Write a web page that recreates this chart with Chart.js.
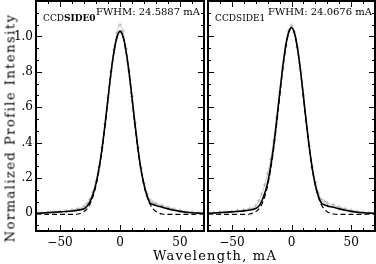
<!DOCTYPE html>
<html>
<head>
<meta charset="utf-8">
<script src="https://cdn.jsdelivr.net/npm/chart.js@4/dist/chart.umd.min.js"></script>
<style>
  body { margin: 0; background: #fff; }
  #wrap { position: relative; width: 376px; height: 264px; overflow: hidden; font-family: "DejaVu Serif", serif; color: #000; }
  .panel { position: absolute; top: 0; height: 264px; }
  .title { position: absolute; white-space: nowrap; font-size: 13px; letter-spacing: 1.2px; transform: translate(-50%, -50%); }
  #ytitle { transform: translate(-50%, -50%) rotate(-90deg); letter-spacing: 1.5px; }
</style>
</head>
<body>
<div id="wrap">
  <div class="panel" style="left:0;width:206px"><canvas id="side0"></canvas></div>
  <div class="panel" style="left:206px;width:170px"><canvas id="side1"></canvas></div>
  <div class="title" id="xtitle" style="left:215px;top:255px">Wavelength, mA</div>
  <div class="title" id="ytitle" style="left:10px;top:128px">Normalized Profile Intensity</div>
</div>
<script>
// wavelength offsets, mA
const wavelength = [-70, -65, -60, -55, -50, -45, -40, -35, -30, -27.5, -25, -22.5, -20, -17.5, -15, -12.5, -10, -7.5, -5, -2.5,
  0, 2.5, 5, 7.5, 10, 12.5, 15, 17.5, 20, 22.5, 25, 27.5, 30, 35, 40, 45, 50, 55, 60, 65, 70];

// CCD side 0
const side0Mean = [0.000, 0.002, 0.004, 0.006, 0.008, 0.010, 0.013, 0.018, 0.026, 0.040, 0.066, 0.108, 0.168, 0.254, 0.364, 0.500, 0.650, 0.795, 0.915, 0.995,
  1.030, 1.000, 0.920, 0.800, 0.655, 0.505, 0.365, 0.248, 0.162, 0.100, 0.058, 0.050, 0.044, 0.035, 0.025, 0.017, 0.011, 0.006, 0.003, 0.001, 0.000];
const side0Fit = [-0.004, -0.005, -0.006, -0.006, -0.006, -0.006, -0.006, -0.004, 0.010, 0.025, 0.052, 0.094, 0.157, 0.245, 0.358, 0.495, 0.645, 0.790, 0.913, 0.998,
  1.028, 0.998, 0.913, 0.790, 0.645, 0.495, 0.358, 0.245, 0.157, 0.094, 0.052, 0.025, 0.010, -0.004, -0.006, -0.006, -0.006, -0.006, -0.006, -0.005, -0.004];
const side0Scatter = [0.002, 0.003, 0.005, 0.008, 0.010, 0.013, 0.018, 0.026, 0.040, 0.055, 0.080, 0.120, 0.180, 0.262, 0.372, 0.505, 0.655, 0.800, 0.925, 1.020,
  1.065, 1.030, 0.930, 0.805, 0.660, 0.510, 0.372, 0.255, 0.170, 0.112, 0.075, 0.062, 0.055, 0.045, 0.034, 0.024, 0.016, 0.010, 0.006, 0.003, 0.001];

// CCD side 1
const side1Mean = [0.000, 0.002, 0.004, 0.006, 0.008, 0.011, 0.014, 0.019, 0.027, 0.040, 0.068, 0.112, 0.172, 0.262, 0.378, 0.520, 0.672, 0.818, 0.940, 1.020,
  1.050, 1.018, 0.935, 0.810, 0.662, 0.508, 0.368, 0.250, 0.160, 0.098, 0.058, 0.048, 0.042, 0.034, 0.025, 0.017, 0.011, 0.006, 0.003, 0.001, 0.000];
const side1Fit = [-0.004, -0.005, -0.006, -0.006, -0.006, -0.006, -0.006, -0.004, 0.009, 0.023, 0.050, 0.092, 0.156, 0.246, 0.362, 0.503, 0.656, 0.804, 0.930, 1.016,
  1.046, 1.016, 0.930, 0.804, 0.656, 0.503, 0.362, 0.246, 0.156, 0.092, 0.050, 0.023, 0.009, -0.004, -0.006, -0.006, -0.006, -0.006, -0.006, -0.005, -0.004];
const side1Scatter = [0.002, 0.004, 0.006, 0.008, 0.011, 0.014, 0.019, 0.027, 0.042, 0.070, 0.108, 0.160, 0.225, 0.305, 0.410, 0.540, 0.685, 0.828, 0.948, 1.030,
  1.062, 1.025, 0.940, 0.815, 0.668, 0.515, 0.378, 0.262, 0.175, 0.115, 0.078, 0.066, 0.058, 0.047, 0.035, 0.025, 0.017, 0.010, 0.006, 0.003, 0.001];

const panelNames = ["CCD", "CCD"];
const panelSides = ["SIDE0", "SIDE1"];
const fwhm = ["24.5887", "24.0676"];
const xTickValues = [-50, 0, 50];
const yTickValues = [0, 0.2, 0.4, 0.6, 0.8, 1.0];

function pts(arr) {
    return wavelength.map((w, i) => ({x: w, y: arr[i]}));
}

// IDL style frame with inward ticks on all four sides, plus the panel labels
const frameTicks = {
    id: "frameTicks",
    afterDraw(chart, args, opts) {
        const ctx = chart.ctx, a = chart.chartArea;
        const x = chart.scales.x, y = chart.scales.y;
        ctx.save();
        ctx.strokeStyle = "#000";
        ctx.lineWidth = 1;
        ctx.beginPath();
        for (let v = -60; v <= 60; v += 10) {
            const px = Math.round(x.getPixelForValue(v)) + 0.5;
            const len = v % 50 === 0 ? 6 : 3;
            ctx.moveTo(px, a.bottom); ctx.lineTo(px, a.bottom - len);
            ctx.moveTo(px, a.top); ctx.lineTo(px, a.top + len);
        }
        for (let k = -1; k <= 18; k++) {
            const v = k * 0.2 / 3;
            const py = Math.round(y.getPixelForValue(v)) + 0.5;
            const len = k % 3 === 0 ? 6 : 3;
            ctx.moveTo(a.left, py); ctx.lineTo(a.left + len, py);
            ctx.moveTo(a.right, py); ctx.lineTo(a.right - len, py);
        }
        ctx.stroke();
        ctx.lineWidth = 2;
        ctx.strokeRect(a.left, a.top, a.right - a.left, a.bottom - a.top);

        // panel label
        ctx.fillStyle = "#000";
        ctx.textBaseline = "alphabetic";
        ctx.font = "9px 'DejaVu Serif'";
        ctx.fillText(panelNames[opts.panel], a.left + 7, 21);
        const w = ctx.measureText(panelNames[opts.panel]).width;
        ctx.font = (opts.panel === 0 ? "bold " : "") + "9px 'DejaVu Serif'";
        ctx.fillText(panelSides[opts.panel], a.left + 7 + w, 21);
        ctx.font = "10px 'DejaVu Serif'";
        ctx.fillText("FWHM: " + fwhm[opts.panel] + " mA", a.left + 60, 15);
        ctx.restore();
    }
};

function makeChart(id, panel, mean, fit, scatter) {
    const showY = panel === 0;
    return new Chart(document.getElementById(id), {
        type: "line",
        data: {
            datasets: [
                {data: pts(mean), borderColor: "#000", borderWidth: 1.6, pointRadius: 0, order: 1},
                {data: pts(fit), borderColor: "#000", borderWidth: 1.2, borderDash: [5, 3], pointRadius: 0, order: 2},
                {data: pts(scatter), borderColor: "#c8c8c8", borderWidth: 1, pointStyle: "cross", pointRadius: 2,
                    pointBorderColor: "#b0b0b0", pointBorderWidth: 0.8, order: 3}
            ]
        },
        options: {
            responsive: true,
            maintainAspectRatio: false,
            animation: false,
            cubicInterpolationMode: "monotone",
            layout: {
                autoPadding: false,
                padding: {top: 1, right: panel === 0 ? 2 : 1, left: panel === 0 ? 0 : 2, bottom: 0}
            },
            plugins: {legend: {display: false}, tooltip: {enabled: false}, frameTicks: {panel: panel}},
            scales: {
                x: {
                    type: "linear", min: -70, max: 70,
                    grid: {display: false, drawTicks: false},
                    border: {display: false},
                    afterBuildTicks: s => { s.ticks = xTickValues.map(v => ({value: v})); },
                    afterFit: s => { s.height = 33; s.paddingLeft = 0; s.paddingRight = 0; },
                    ticks: {
                        padding: 5, color: "#000", maxRotation: 0, autoSkip: false,
                        font: {family: "DejaVu Serif", size: 12},
                        callback: v => v < 0 ? "\u2212" + Math.abs(v) : String(v)
                    }
                },
                y: {
                    type: "linear", min: -0.1, max: 1.2,
                    display: showY,
                    grid: {display: false, drawTicks: false},
                    border: {display: false},
                    afterBuildTicks: s => { s.ticks = yTickValues.map(v => ({value: v})); },
                    afterFit: s => {
                        s.width = showY ? 36 : 0;
                        s.paddingTop = 0; s.paddingBottom = 0;
                    },
                    ticks: {
                        padding: 3, color: "#000", autoSkip: false,
                        font: {family: "DejaVu Serif", size: 12},
                        callback: v => v === 0 ? "0" : (v >= 1 ? v.toFixed(1) : v.toFixed(1).replace(/^0/, ""))
                    }
                }
            }
        },
        plugins: [frameTicks]
    });
}

makeChart("side0", 0, side0Mean, side0Fit, side0Scatter);
makeChart("side1", 1, side1Mean, side1Fit, side1Scatter);
</script>
</body>
</html>
